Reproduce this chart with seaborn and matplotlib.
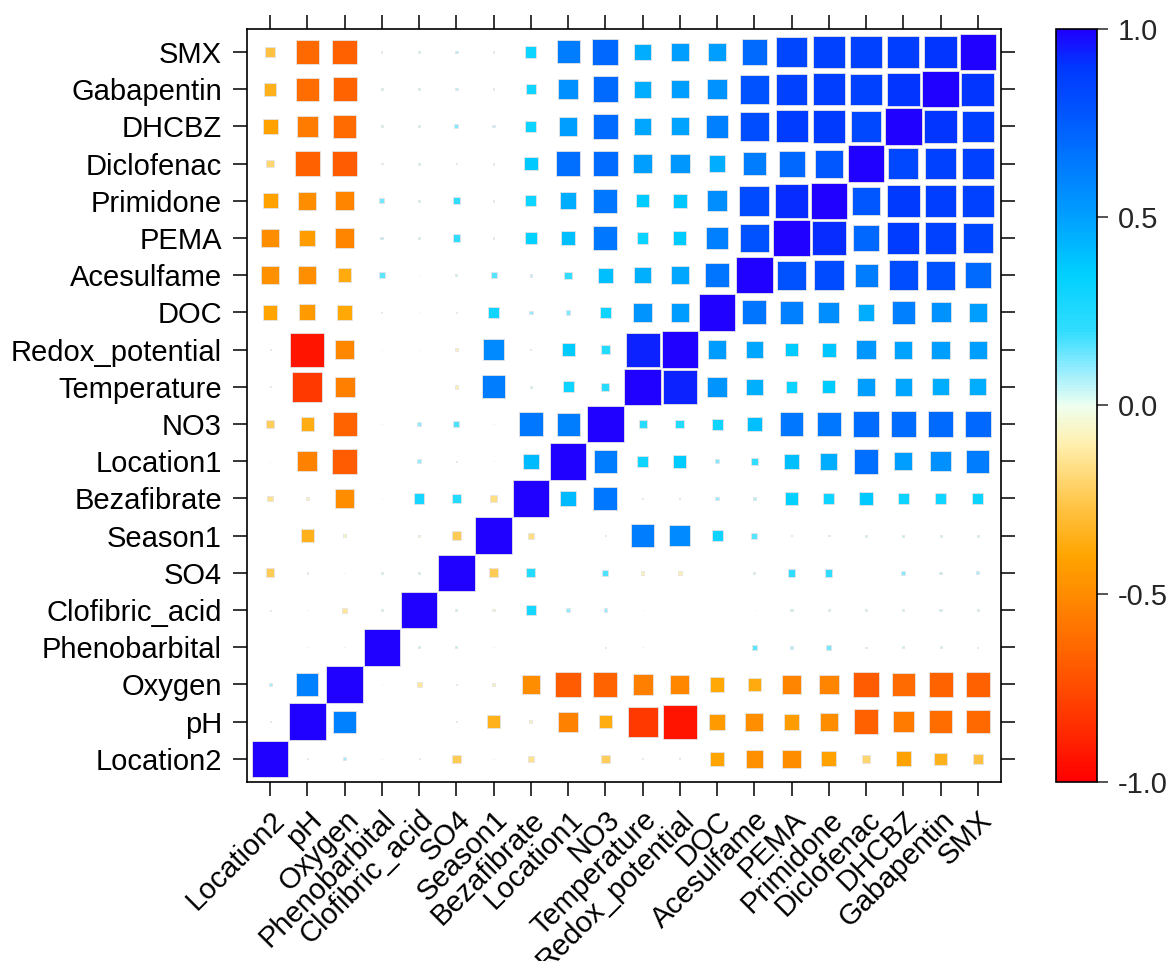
import numpy as np
import pandas as pd
import seaborn as sns
import matplotlib.pyplot as plt
from matplotlib.colors import LinearSegmentedColormap, Normalize
from matplotlib.cm import ScalarMappable

# variable order (x axis left->right, y axis bottom->top)
variables = ["Location2", "pH", "Oxygen", "Phenobarbital", "Clofibric_acid", "SO4",
             "Season1", "Bezafibrate", "Location1", "NO3", "Temperature",
             "Redox_potential", "DOC", "Acesulfame", "PEMA", "Primidone",
             "Diclofenac", "DHCBZ", "Gabapentin", "SMX"]

# lower triangle of the correlation matrix: row i = r with variables 0..i-1
lower = [
    [],
    [0.03],
    [0.08, 0.61],
    [-0.02, 0.01, 0.01],
    [-0.03, 0.01, -0.14, 0.06],
    [-0.24, 0.04, 0.02, 0.06, 0.06],
    [-0.02, -0.35, -0.08, 0.01, -0.06, -0.24],
    [-0.15, -0.08, -0.50, 0.01, 0.28, 0.24, -0.17],
    [-0.02, -0.54, -0.69, 0.01, 0.10, 0.02, 0.01, 0.42],
    [-0.23, -0.36, -0.66, 0.02, 0.10, 0.17, 0.02, 0.65, 0.63],
    [-0.03, -0.82, -0.55, 0.01, 0.01, -0.10, 0.63, 0.04, 0.30, 0.22],
    [-0.03, -0.93, -0.52, 0.01, 0.01, -0.10, 0.58, 0.03, 0.36, 0.24, 0.93],
    [-0.40, -0.44, -0.39, 0.02, 0.01, 0.02, 0.30, 0.10, 0.12, 0.30, 0.54, 0.51],
    [-0.48, -0.49, -0.37, 0.15, 0.02, 0.06, 0.16, 0.07, 0.20, 0.40, 0.45, 0.48, 0.66],
    [-0.50, -0.43, -0.53, 0.08, 0.06, 0.20, 0.03, 0.34, 0.40, 0.65, 0.32, 0.36, 0.62,
     0.79],
    [-0.41, -0.50, -0.53, 0.13, 0.05, 0.20, 0.04, 0.30, 0.46, 0.65, 0.36, 0.38, 0.57,
     0.82, 0.92],
    [-0.20, -0.67, -0.69, 0.04, 0.05, 0.02, 0.05, 0.37, 0.68, 0.69, 0.50, 0.53, 0.46,
     0.63, 0.71, 0.77],
    [-0.41, -0.57, -0.63, 0.05, 0.05, 0.11, 0.06, 0.31, 0.50, 0.69, 0.48, 0.49, 0.62,
     0.81, 0.88, 0.89, 0.83],
    [-0.35, -0.62, -0.66, 0.05, 0.06, 0.07, 0.05, 0.29, 0.56, 0.70, 0.46, 0.50, 0.55,
     0.79, 0.86, 0.87, 0.86, 0.90],
    [-0.28, -0.64, -0.67, 0.03, 0.06, 0.08, 0.05, 0.31, 0.63, 0.71, 0.46, 0.50, 0.50,
     0.70, 0.84, 0.86, 0.86, 0.87, 0.90],
]

cbar_ticks = [-1.0, -0.5, 0.0, 0.5, 1.0]

n = len(variables)
corr = np.eye(n)
for i, row in enumerate(lower):
    for j, v in enumerate(row):
        corr[i, j] = v
        corr[j, i] = v

df = pd.DataFrame([(x, y, corr[y, x]) for y in range(n) for x in range(n)],
                  columns=["x", "y", "r"])
df["area"] = df["r"] ** 2

# red -> orange -> yellow -> pale -> cyan -> blue
cmap = LinearSegmentedColormap.from_list("corr", [
    (0.000, "#FF0000"), (0.075, "#FF3000"), (0.150, "#FF5A00"),
    (0.225, "#FF8000"), (0.300, "#FFA500"), (0.375, "#FFC850"),
    (0.450, "#FFF0B0"), (0.500, "#EEFFF0"), (0.550, "#90ECFF"),
    (0.600, "#30DDFF"), (0.675, "#00D0FF"), (0.750, "#00A0FF"),
    (0.825, "#0078FF"), (0.900, "#0050FF"), (0.950, "#0038FF"),
    (1.000, "#2000FF")])

sns.set_theme(style="ticks")
plt.rcParams["font.family"] = ["Liberation Sans", "DejaVu Sans"]
plt.rcParams["axes.unicode_minus"] = False

fig = plt.figure(figsize=(11.7, 9.61), dpi=100)
ax = fig.add_axes([0.2111, 0.1863, 0.6444, 0.7836])

side_pt = 36.5 * 0.72
sns.scatterplot(data=df, x="x", y="y", hue="r", palette=cmap, hue_norm=(-1, 1),
                size="area", sizes=(0, side_pt ** 2), size_norm=(0, 1),
                marker="s", edgecolor="#e4e4e4", linewidth=0.6, legend=False, ax=ax)

ax.set_xlim(-0.62, n - 1 + 0.62)
ax.set_ylim(-0.62, n - 1 + 0.62)
ax.set_xticks(range(n))
ax.set_xticklabels(variables, rotation=45, ha="right", va="top", rotation_mode="anchor")
ax.set_yticks(range(n))
ax.set_yticklabels(variables)
ax.set_xlabel("")
ax.set_ylabel("")
ax.tick_params(top=True, right=True, direction="out", length=10, width=1.1,
               labelsize=21, color="black", labelcolor="black")
ax.tick_params(axis="y", pad=8)
ax.tick_params(axis="x", pad=7)
for sp in ax.spines.values():
    sp.set_visible(True)
    sp.set_color("black")
    sp.set_linewidth(1.2)

cax = fig.add_axes([0.9026, 0.1863, 0.035, 0.7836])
sm = ScalarMappable(norm=Normalize(-1, 1), cmap=cmap)
cb = fig.colorbar(sm, cax=cax, ticks=cbar_ticks)
cb.ax.set_yticklabels([f"{t:.1f}" for t in cbar_ticks])
cb.ax.tick_params(direction="out", length=8, width=1.1, labelsize=21, pad=7)
cb.outline.set_edgecolor("black")
cb.outline.set_linewidth(1.2)

fig.savefig("out.png", dpi=100)
plt.close(fig)
